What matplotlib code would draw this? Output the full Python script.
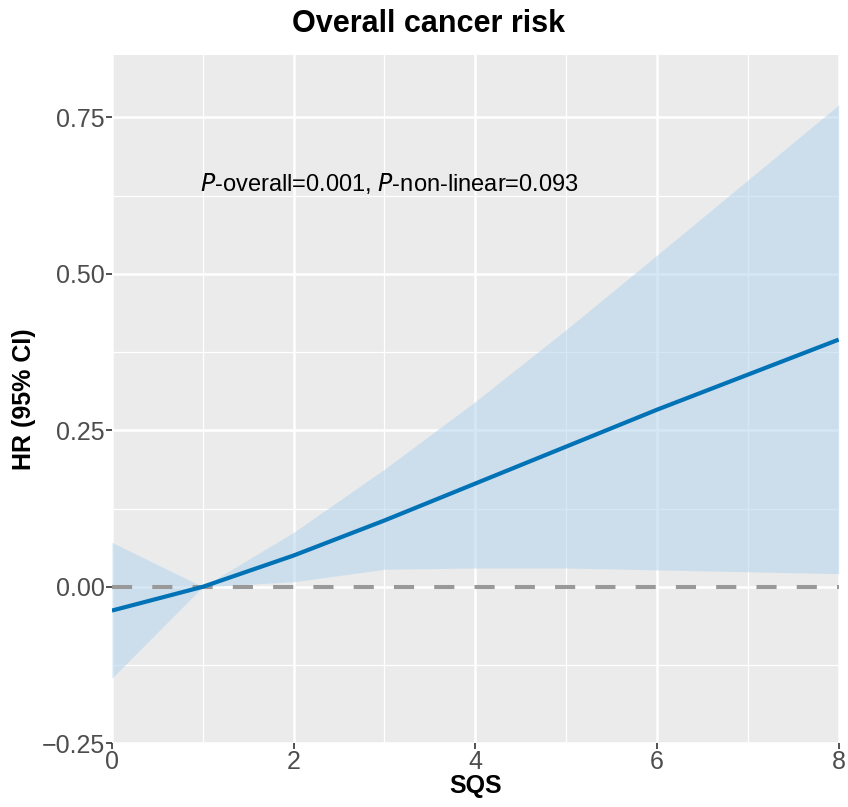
import matplotlib
matplotlib.use("Agg")
import matplotlib.pyplot as plt

plt.rcParams["font.family"] = ["Liberation Sans", "DejaVu Sans"]

# restricted cubic spline estimates
sqs = [0, 1, 2, 3, 4, 5, 6, 7, 8]
hr = [-0.038, 0.0, 0.050, 0.106, 0.165, 0.224, 0.283, 0.339, 0.395]
lower = [-0.146, 0.0, 0.008, 0.028, 0.030, 0.030, 0.027, 0.024, 0.021]
upper = [0.071, 0.0, 0.087, 0.188, 0.296, 0.411, 0.530, 0.650, 0.770]

xticks = [0, 2, 4, 6, 8]
yticks = [-0.25, 0.0, 0.25, 0.50, 0.75]

fig = plt.figure(figsize=(8.48, 8.07), dpi=100)
ax = fig.add_axes([0.132, 0.079, 0.857, 0.853])
ax.set_facecolor("#EBEBEB")

for s in ax.spines.values():
    s.set_visible(False)

ax.set_xlim(0, 8)
ax.set_ylim(-0.25, 0.85)
ax.set_xticks(xticks)
ax.set_yticks(yticks)
ax.set_xticks([1, 3, 5, 7], minor=True)
ax.set_yticks([-0.125, 0.125, 0.375, 0.625], minor=True)
ax.grid(which="major", color="white", linewidth=1.8)
ax.grid(which="minor", color="white", linewidth=0.9)
ax.set_axisbelow(True)

ax.fill_between(sqs, lower, upper, color="#b3d5ed", alpha=0.55, linewidth=0)
ax.axhline(0, color="#999999", linewidth=2.9, dashes=(5, 5))
ax.plot(sqs, hr, color="#0072B5", linewidth=3.0, solid_capstyle="butt")

ax.text(3.05, 0.645, r"$\it{P}$-overall=0.001, $\it{P}$-non-linear=0.093",
        ha="center", va="center", fontsize=17, color="black")

ax.tick_params(axis="both", which="major", labelsize=18, labelcolor="#4D4D4D",
               color="#333333", length=4, width=1.2, pad=1)
ax.tick_params(which="minor", length=0)
ax.set_yticklabels(["\u22120.25", "0.00", "0.25", "0.50", "0.75"])

ax.set_xlabel("SQS", fontsize=18, fontweight="bold", labelpad=0)
ax.set_ylabel("HR (95% CI)", fontsize=18, fontweight="bold", labelpad=4)
fig.text(0.505, 0.97, "Overall cancer risk", fontsize=22, fontweight="bold",
         ha="center", va="center")

fig.savefig("out.png", dpi=100)
